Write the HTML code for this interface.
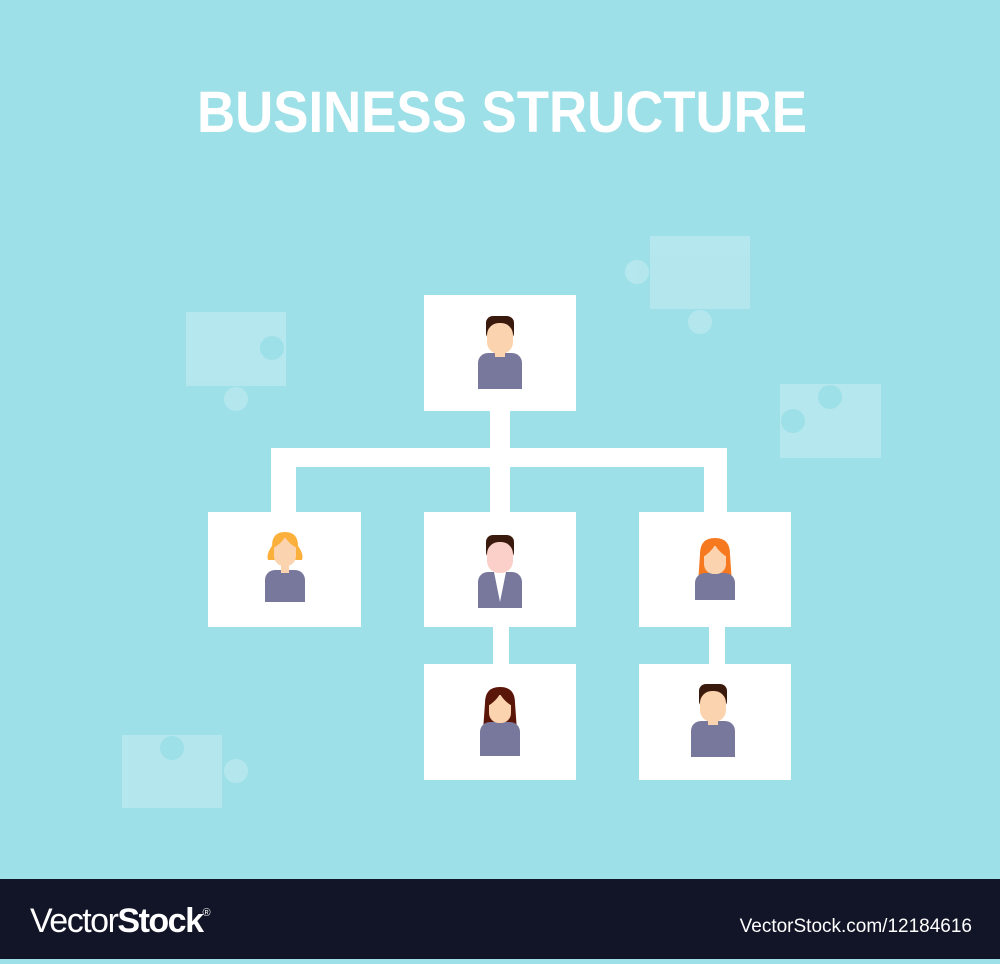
<!DOCTYPE html>
<html><head><style>
html,body{margin:0;padding:0;}
body{width:1000px;height:959px;overflow:hidden;background:#9ee0e8;font-family:"Liberation Sans",sans-serif;}
</style></head><body>
<svg width="1000" height="959" viewBox="0 0 1000 959" xmlns="http://www.w3.org/2000/svg">
<defs>
<g id="man">
<rect x="-22" y="26" width="44" height="36" rx="10" fill="#78789c"/>
<rect x="-22" y="50" width="44" height="12" fill="#78789c"/>
<rect x="-5" y="20" width="10" height="10" fill="#fbd3ae"/>
<rect x="-14" y="-11" width="28" height="24" rx="7" fill="#3b1a0e"/>
<rect x="-13" y="-4" width="26" height="31" rx="12" fill="#fbd3ae"/>
</g>
</defs>
<g fill="#b7e8ee" opacity="0.9">
<rect x="186" y="312" width="100" height="74"/><circle cx="236" cy="399" r="12"/>
<rect x="650" y="236" width="100" height="73"/><circle cx="637" cy="272" r="12"/><circle cx="700" cy="322" r="12"/>
<rect x="780" y="384" width="101" height="74"/>
<rect x="122" y="735" width="100" height="73"/><circle cx="236" cy="771" r="12"/>
</g>
<g fill="#9ee0e8"><circle cx="272" cy="348" r="12"/><circle cx="830" cy="397" r="12"/><circle cx="793" cy="421" r="12"/><circle cx="172" cy="748" r="12"/></g>
<text x="197" y="132" textLength="610" lengthAdjust="spacingAndGlyphs" font-family="Liberation Sans, sans-serif" font-weight="bold" font-size="58" fill="#fff">BUSINESS STRUCTURE</text>
<g fill="#fff">
<rect x="490" y="405" width="20" height="50"/>
<rect x="271" y="448" width="456" height="19"/>
<rect x="271" y="448" width="25" height="70"/>
<rect x="490" y="448" width="20" height="70"/>
<rect x="704" y="448" width="23" height="70"/>
<rect x="493" y="620" width="16" height="50"/>
<rect x="709" y="620" width="16" height="50"/>
<rect x="424" y="295" width="152" height="116"/>
<rect x="208" y="512" width="153" height="115"/>
<rect x="424" y="512" width="152" height="115"/>
<rect x="639" y="512" width="152" height="115"/>
<rect x="424" y="664" width="152" height="116"/>
<rect x="639" y="664" width="152" height="116"/>
</g>
<use href="#man" x="500" y="327"/>
<use href="#man" x="713" y="695"/>
<!-- middle man with suit -->
<g transform="translate(500,546)">
<rect x="-22" y="26" width="44" height="36" rx="10" fill="#78789c"/>
<rect x="-22" y="50" width="44" height="12" fill="#78789c"/>
<path d="M-6,26 L6,26 L0,56Z" fill="#fff"/>
<rect x="-14" y="-11" width="28" height="24" rx="7" fill="#3b1a0e"/>
<rect x="-13" y="-4" width="26" height="31" rx="12" fill="#fbd0c8"/>
</g>
<!-- blonde woman -->
<g transform="translate(285,550)">
<rect x="-20" y="20" width="40" height="32" rx="10" fill="#78789c"/>
<rect x="-20" y="42" width="40" height="10" fill="#78789c"/>
<rect x="-4" y="14" width="8" height="9" fill="#fbd3ae"/>
<path d="M-13,-4 Q-13,-18 0,-18 Q13,-18 13,-4 Q19,4 17,10 L-17,10 Q-19,4 -13,-4Z" fill="#fbb03b"/>
<rect x="-11" y="-12" width="22" height="28" rx="10" fill="#fbd3ae"/>
<path d="M-12,-2 Q-12,-16 0,-16 Q12,-16 12,-2 Q4,-6 0,-13 Q-4,-6 -12,-2Z" fill="#fbb03b"/>
</g>
<!-- red woman -->
<g transform="translate(715,560)">
<path d="M-15,-6 Q-15,-22 0,-22 Q15,-22 15,-6 L17,24 L-17,24Z" fill="#f7791f"/>
<rect x="-20" y="13" width="40" height="27" rx="10" fill="#78789c"/>
<rect x="-20" y="30" width="40" height="10" fill="#78789c"/>
<rect x="-11" y="-14" width="22" height="28" rx="10" fill="#fbd3ae"/>
<path d="M-12,-3 Q-12,-18 0,-18 Q12,-18 12,-3 Q4,-8 0,-15 Q-4,-8 -12,-3Z" fill="#f7791f"/>
</g>
<!-- brunette woman -->
<g transform="translate(500,709)">
<path d="M-15,-6 Q-15,-22 0,-22 Q15,-22 15,-6 L17,22 L-17,22Z" fill="#5a1608"/>
<rect x="-20" y="13" width="40" height="34" rx="10" fill="#78789c"/>
<rect x="-20" y="37" width="40" height="10" fill="#78789c"/>
<rect x="-11" y="-14" width="22" height="28" rx="10" fill="#fbd3ae"/>
<path d="M-12,-3 Q-12,-18 0,-18 Q12,-18 12,-3 Q4,-8 0,-15 Q-4,-8 -12,-3Z" fill="#5a1608"/>
</g>
<rect x="0" y="879" width="1000" height="80" fill="#121427"/>
<text x="30" y="932" font-family="Liberation Sans, sans-serif" font-size="34" fill="#fff" letter-spacing="-1.5"><tspan font-weight="normal">Vector</tspan><tspan font-weight="bold">Stock</tspan><tspan font-size="11" dy="-16">®</tspan></text>
<text x="972" y="932" text-anchor="end" font-family="Liberation Sans, sans-serif" font-size="19" fill="#fff">VectorStock.com/12184616</text>
</svg>
</body></html>
